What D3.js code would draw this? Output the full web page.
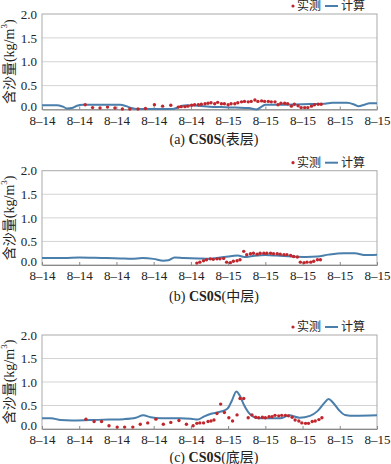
<!DOCTYPE html>
<html>
<head>
<meta charset="utf-8">
<script src="https://cdn.jsdelivr.net/npm/d3@7"></script>
<style>
body { margin: 0; background: #fff; }
svg { display: block; }
</style>
</head>
<body>
<svg id="chart" width="391" height="464"></svg>
<script>
// x axis: hours since 8-14 00:00
var tickHours = [0, 5, 10, 15, 20, 25, 30, 35, 40, 45]
var tickLabels = ["8–14", "8–14", "8–14", "8–14", "8–14", "8–15", "8–15", "8–15", "8–15", "8–15"]
var yTicks = [0, 0.5, 1.0, 1.5, 2.0]

// (a) surface layer
var calcHoursA = [0, 2, 2.8, 3.4, 4.0, 4.7, 5.5, 8, 10.5, 11.3, 12, 12.8, 15, 17.5, 18.2, 18.8, 19.5, 21, 22.5, 24, 26, 27.8, 28.8, 29.5, 30, 32, 35, 38, 39, 41, 42, 42.5, 43.3, 44, 45]
var calcA = [0.09, 0.09, 0.06, 0.02, 0.03, 0.08, 0.1, 0.1, 0.1, 0.07, 0.03, 0.01, 0.01, 0.01, 0.04, 0.08, 0.09, 0.08, 0.06, 0.05, 0.04, 0.03, 0.0, 0.06, 0.1, 0.1, 0.11, 0.12, 0.14, 0.14, 0.1, 0.07, 0.1, 0.13, 0.13]
var obsHoursA = [5.8, 6.8, 7.8, 8.8, 9.8, 10.8, 11.8, 12.9, 13.9, 15.1, 16.2, 17.3,
	18.3, 18.7, 19.2, 19.6, 20.1, 20.5, 21.0, 21.4, 21.9, 22.3, 22.7, 23.2, 23.6, 24.1, 24.5, 25.0, 25.4, 25.9, 26.3, 26.8, 27.2, 27.7, 28.1, 28.6, 29.0, 29.5, 29.9, 30.4, 30.8, 31.3, 31.7, 32.1, 32.6, 33.0, 33.5, 33.9, 34.4, 34.8, 35.3, 35.7, 36.2, 36.6, 37.1, 37.5]
var obsA = [0.1, 0.04, 0.03, 0.05, 0.03, 0.01, 0.01, 0.01, 0.02, 0.1, 0.07, 0.09,
	0.05, 0.06, 0.06, 0.07, 0.09, 0.1, 0.1, 0.11, 0.12, 0.13, 0.14, 0.12, 0.15, 0.12, 0.12, 0.1, 0.12, 0.12, 0.14, 0.16, 0.17, 0.16, 0.17, 0.2, 0.17, 0.18, 0.17, 0.17, 0.16, 0.16, 0.1, 0.13, 0.13, 0.12, 0.07, 0.11, 0.08, 0.04, 0.04, 0.04, 0.07, 0.1, 0.11, 0.11]

// (b) middle layer
var calcHoursB = [0, 3, 5, 8, 10.5, 12, 13.5, 15, 16.3, 17, 17.8, 19, 21, 22.3, 24.5, 26.3, 27.2, 28.3, 30, 31.5, 33.5, 35.5, 37, 38.5, 40.5, 42, 43.5, 45]
var calcB = [0.15, 0.15, 0.16, 0.15, 0.14, 0.13, 0.15, 0.13, 0.09, 0.1, 0.16, 0.15, 0.14, 0.13, 0.17, 0.2, 0.17, 0.19, 0.21, 0.2, 0.18, 0.17, 0.18, 0.22, 0.25, 0.25, 0.21, 0.22]
var obsHoursB = [20.8, 21.2, 21.7, 22.1, 22.6, 23.0, 23.5, 23.9, 24.4, 24.8, 25.3, 25.7, 26.2, 26.6, 27.1, 27.5, 28.0, 28.4, 28.9, 29.3, 29.8, 30.2, 30.7, 31.1, 31.6, 32.0, 32.5, 32.9, 33.4, 33.8, 34.3, 34.7, 35.2, 35.6, 36.1, 36.5, 37.0, 37.4]
var obsB = [0.04, 0.06, 0.09, 0.11, 0.13, 0.12, 0.13, 0.13, 0.14, 0.06, 0.05, 0.08, 0.09, 0.11, 0.29, 0.22, 0.24, 0.25, 0.23, 0.25, 0.25, 0.25, 0.25, 0.24, 0.24, 0.23, 0.22, 0.22, 0.2, 0.18, 0.17, 0.06, 0.05, 0.06, 0.06, 0.08, 0.11, 0.11]

// (c) bottom layer
var calcHoursC = [0, 1.2, 2.5, 4, 6.5, 9, 11, 12.6, 13.6, 14.6, 16, 18.5, 20, 20.9, 21.8, 22.6, 23.8, 24.9, 25.5, 26.1, 26.6, 27.1, 27.7, 28.3, 29.2, 32, 33.2, 34.6, 36, 37, 37.9, 38.5, 39.1, 39.9, 40.7, 42, 45]
var calcC = [0.23, 0.23, 0.19, 0.18, 0.19, 0.2, 0.21, 0.24, 0.29, 0.25, 0.23, 0.23, 0.22, 0.2, 0.27, 0.32, 0.36, 0.43, 0.6, 0.8, 0.7, 0.52, 0.36, 0.27, 0.23, 0.23, 0.29, 0.24, 0.28, 0.38, 0.55, 0.64, 0.56, 0.4, 0.3, 0.28, 0.29]
var obsHoursC = [5.9, 7.0, 8.0, 9.0, 10.1, 11.1, 12.2, 13.2, 14.2, 15.3, 16.3, 17.3, 18.4, 19.4, 20.3, 20.8, 21.2, 21.7,
	22.3, 22.7, 23.1, 23.5, 24.0, 24.5, 25.1, 25.6, 26.2, 26.6, 27.1, 27.7, 28.2, 28.7, 29.1, 29.6, 30.0, 30.5, 30.9, 31.3, 31.8, 32.2, 32.7, 33.1, 33.6, 34.0, 34.5, 34.9, 35.4, 35.8, 36.3, 36.7, 37.2, 37.6]
var obsC = [0.21, 0.16, 0.16, 0.07, 0.04, 0.04, 0.04, 0.1, 0.13, 0.21, 0.1, 0.14, 0.18, 0.1, 0.07, 0.12, 0.13, 0.13,
	0.16, 0.17, 0.19, 0.33, 0.53, 0.35, 0.24, 0.17, 0.3, 0.65, 0.65, 0.24, 0.3, 0.25, 0.24, 0.25, 0.24, 0.26, 0.26, 0.29, 0.28, 0.29, 0.29, 0.28, 0.25, 0.19, 0.17, 0.13, 0.12, 0.12, 0.16, 0.17, 0.2, 0.24]

var serif = "'Liberation Serif', 'Noto Sans CJK SC', serif"
var left = 42, right = 377

var panels = [
	{tag: "(a) ", layer: "(表层)", ch: calcHoursA, cv: calcA, oh: obsHoursA, ov: obsA, top: 14, bottom: 109.5, cap: 138.5},
	{tag: "(b) ", layer: "(中层)", ch: calcHoursB, cv: calcB, oh: obsHoursB, ov: obsB, top: 170.7, bottom: 265, cap: 296},
	{tag: "(c) ", layer: "(底层)", ch: calcHoursC, cv: calcC, oh: obsHoursC, ov: obsC, top: 335, bottom: 429, cap: 457}
]

var svg = d3.select("#chart")

panels.forEach(function(p) {
	var g = svg.append("g")
	var x = d3.scaleLinear().domain([0, 45]).range([left, right])
	var y = d3.scaleLinear().domain([0, 2]).range([p.bottom, p.top])

	// gridlines
	g.selectAll(".grid")
		.data(yTicks.filter(function(d) { return d > 0 && d < 2 }))
		.enter().append("line")
		.attr("x1", left).attr("x2", right)
		.attr("y1", function(d) { return y(d) }).attr("y2", function(d) { return y(d) })
		.attr("stroke", "#d4d4d4").attr("stroke-width", 1)

	// frame
	g.append("rect")
		.attr("x", left).attr("y", y(2))
		.attr("width", right - left).attr("height", y(0) - y(2))
		.attr("fill", "none").attr("stroke", "#a9a9a9").attr("stroke-width", 1)

	// y axis
	var ya = g.append("g")
		.attr("transform", "translate(" + left + ",0)")
		.call(d3.axisLeft(y).tickValues(yTicks).tickFormat(d3.format(".1f")).tickSize(0).tickPadding(5))
	ya.select(".domain").remove()
	ya.selectAll("text").attr("font-family", serif).attr("font-size", 13).attr("fill", "#222")
	ya.selectAll(".tick").filter(function(d) { return d === 0 }).select("text").attr("dy", "0.05em")

	// x axis
	var xa = g.append("g")
		.attr("transform", "translate(0," + y(0) + ")")
		.call(d3.axisBottom(x).tickValues(tickHours)
			.tickFormat(function(d, i) { return tickLabels[i] })
			.tickSizeInner(-3).tickSizeOuter(0).tickPadding(6))
	xa.select(".domain").attr("stroke", "#8a8a8a")
	xa.selectAll(".tick line").attr("stroke", "#8a8a8a")
	xa.selectAll("text").attr("font-family", serif).attr("font-size", 13).attr("fill", "#222")

	// y title
	var yt = g.append("text")
		.attr("transform", "translate(9," + (p.top + p.bottom) / 2 + ") rotate(-90)")
		.attr("text-anchor", "middle").attr("dominant-baseline", "central")
		.attr("font-family", serif).attr("font-size", 14).attr("fill", "#222")
	yt.append("tspan").text("含沙量(kg/m")
	yt.append("tspan").attr("font-size", 9).attr("dy", -5).text("3")
	yt.append("tspan").attr("dy", 5).text(")")

	// computed line
	var calc = p.ch.map(function(h, i) { return {h: h, v: p.cv[i]} })
	var line = d3.line()
		.x(function(d) { return x(d.h) })
		.y(function(d) { return y(d.v) })
		.curve(d3.curveMonotoneX)
	g.append("path")
		.datum(calc)
		.attr("fill", "none")
		.attr("stroke", "#4a7eab")
		.attr("stroke-width", 2)
		.attr("d", line)

	// measured points
	var obs = p.oh.map(function(h, i) { return {h: h, v: p.ov[i]} })
	g.selectAll(".obs")
		.data(obs)
		.enter().append("circle")
		.attr("cx", function(d) { return x(d.h) })
		.attr("cy", function(d) { return y(d.v) })
		.attr("r", 1.7)
		.attr("fill", "#c0262d")

	// legend
	var ly = p.top - 8
	g.append("circle").attr("cx", 293).attr("cy", ly).attr("r", 1.6).attr("fill", "#c0262d")
	g.append("text").attr("x", 297).attr("y", ly).attr("dominant-baseline", "central")
		.attr("font-family", serif).attr("font-size", 12).attr("fill", "#222").text("实测")
	g.append("line").attr("x1", 325).attr("x2", 338).attr("y1", ly).attr("y2", ly)
		.attr("stroke", "#4a7eab").attr("stroke-width", 2)
	g.append("text").attr("x", 341).attr("y", ly).attr("dominant-baseline", "central")
		.attr("font-family", serif).attr("font-size", 12).attr("fill", "#222").text("计算")

	// caption
	var cap = g.append("text")
		.attr("x", 214).attr("y", p.cap)
		.attr("text-anchor", "middle").attr("dominant-baseline", "central")
		.attr("font-family", serif).attr("font-size", 14).attr("fill", "#222")
	cap.append("tspan").text(p.tag)
	cap.append("tspan").attr("font-weight", "bold").text("CS0S")
	cap.append("tspan").text(p.layer)
})
</script>
</body>
</html>
